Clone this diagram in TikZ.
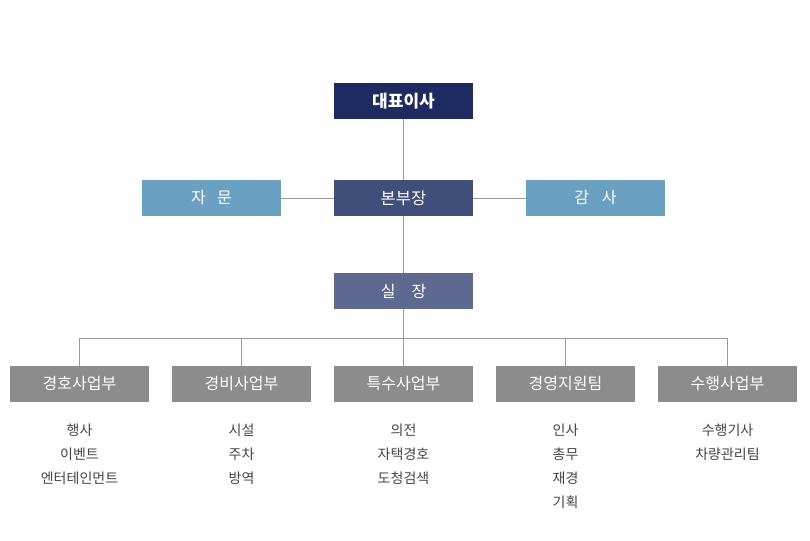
\documentclass[tikz,border=0pt]{standalone}
\usepackage{fontspec}
\setmainfont{Noto Sans CJK KR}
\usepackage{xcolor}
\usetikzlibrary{positioning}

\definecolor{ceoblue}{HTML}{1D2B62}
\definecolor{hqblue}{HTML}{3F4E7B}
\definecolor{sideblue}{HTML}{6AA0C1}
\definecolor{gmblue}{HTML}{5D6991}
\definecolor{deptgray}{HTML}{8C8C8C}
\definecolor{linegray}{HTML}{9A9A9A}
\definecolor{itemgray}{HTML}{444444}

\begin{document}
\begin{tikzpicture}[
  x=1pt, y=-1pt,
  font=\fontsize{16}{18}\selectfont,
  box/.style={rectangle, draw=none, text=white, minimum width=139pt,
              minimum height=36pt, inner sep=0pt},
  ceobox/.style={box, fill=ceoblue, font=\fontsize{17}{18}\selectfont\bfseries},
  hqbox/.style={box, fill=hqblue, font=\fontsize{16.5}{18}\selectfont},
  sidebox/.style={box, fill=sideblue},
  gmbox/.style={box, fill=gmblue},
  deptbox/.style={box, fill=deptgray},
  item/.style={text=itemgray, inner sep=0pt, font=\fontsize{14}{16}\selectfont},
  conn/.style={draw=linegray, line width=0.8pt}
]
\useasboundingbox (0,0) rectangle (810,540);

% Nodes
\node[ceobox]  (ceo) at (403.5,101) {대표이사};
\node[sidebox] (adv) at (211.5,198) {자\hspace{0.7em}문};
\node[hqbox]   (hq)  at (403.5,198) {본부장};
\node[sidebox] (aud) at (595.5,198) {감\hspace{0.8em}사};
\node[gmbox]   (gm)  at (403.5,291) {실\hspace{1em}장};

\node[deptbox] (d1) at (79.5,384)  {경호사업부};
\node[deptbox] (d2) at (241.5,384) {경비사업부};
\node[deptbox] (d3) at (403.5,384) {특수사업부};
\node[deptbox] (d4) at (565.5,384) {경영지원팀};
\node[deptbox] (d5) at (727.5,384) {수행사업부};

% Helper coordinates
\coordinate (busL) at (79.5,338);
\coordinate (busR) at (727.5,338);

% Top connectors
\draw[conn] (ceo.south) -- (hq.north);
\draw[conn] (adv.east) -- (hq.west);
\draw[conn] (hq.east) -- (aud.west);
\draw[conn] (hq.south) -- (gm.north);

% Bus to departments
\draw[conn] (gm.south) -- (gm.south |- busL);
\draw[conn] (busL) -- (busR);
\foreach \d in {d1,d2,d3,d4,d5}
  \draw[conn] (\d.north) -- (\d.north |- busL);

% Department duties
\foreach \t [count=\i] in {행사,이벤트,엔터테인먼트}
  \node[item] (d1-\i) at (79.5,406+24*\i) {\t};
\foreach \t [count=\i] in {시설,주차,방역}
  \node[item] (d2-\i) at (241.5,406+24*\i) {\t};
\foreach \t [count=\i] in {의전,자택경호,도청검색}
  \node[item] (d3-\i) at (403.5,406+24*\i) {\t};
\foreach \t [count=\i] in {인사,총무,재경,기획}
  \node[item] (d4-\i) at (565.5,406+24*\i) {\t};
\foreach \t [count=\i] in {수행기사,차량관리팀}
  \node[item] (d5-\i) at (727.5,406+24*\i) {\t};

\end{tikzpicture}
\end{document}
